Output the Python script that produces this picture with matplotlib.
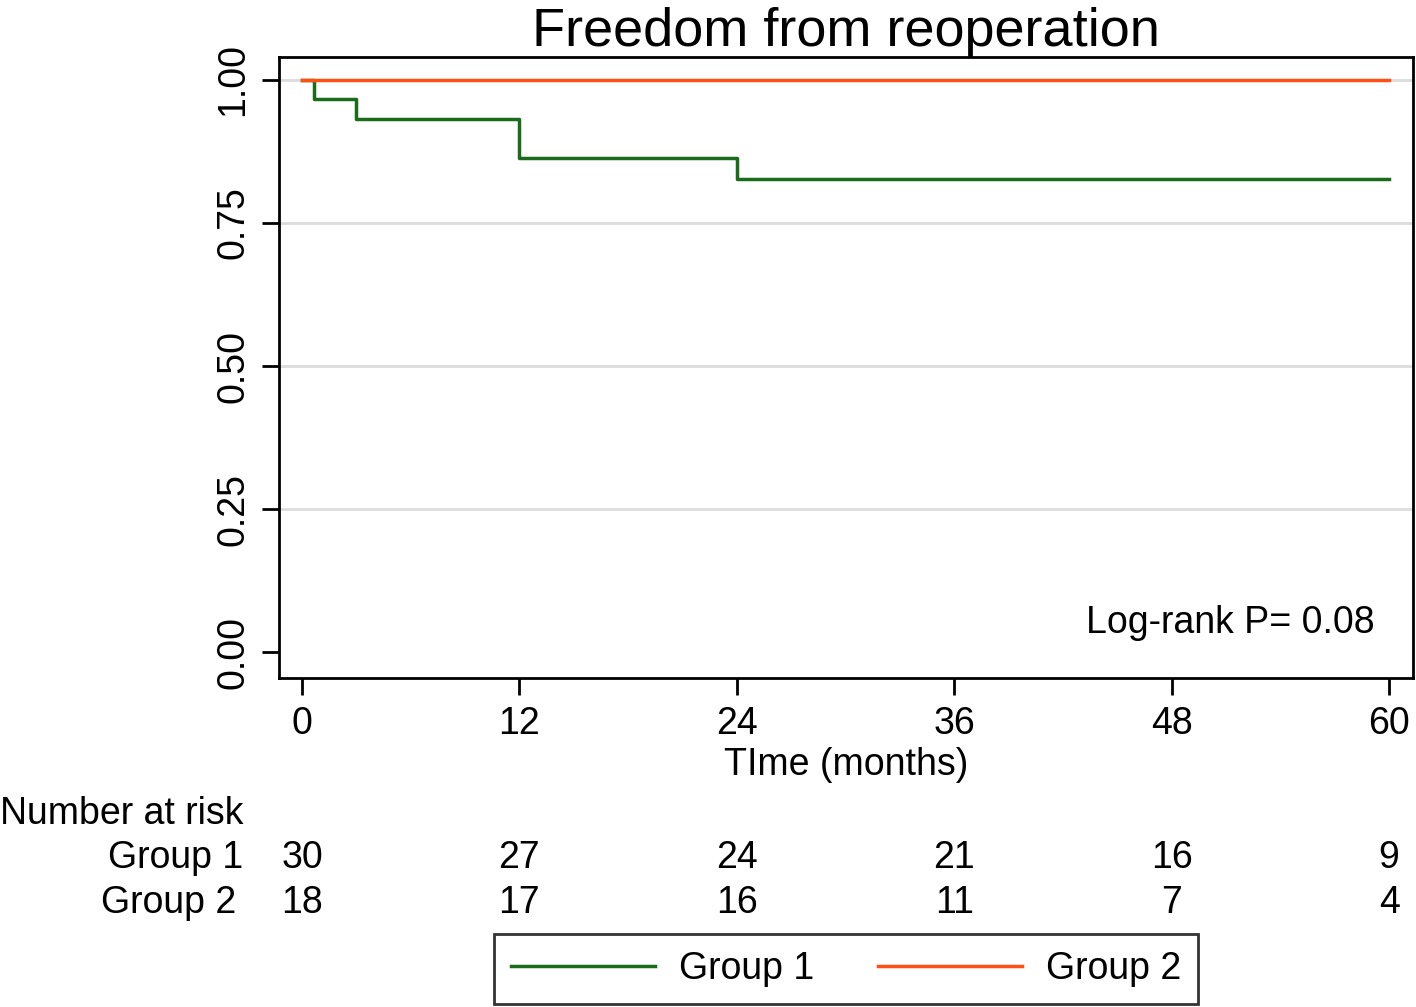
import matplotlib.pyplot as plt
import matplotlib.transforms as mtransforms

plt.rcParams['font.family'] = ['Liberation Sans', 'DejaVu Sans']

# Kaplan-Meier step data
g1_time = [0, 0.65, 3.0, 12.0, 24.0, 60]
g1_surv = [1.0, 0.967, 0.931, 0.863, 0.826, 0.826]
g2_time = [0, 60]
g2_surv = [1.0, 1.0]

# number at risk table
risk_times = [0, 12, 24, 36, 48, 60]
risk_g1 = [30, 27, 24, 21, 16, 9]
risk_g2 = [18, 17, 16, 11, 7, 4]

green = '#1a6b1a'
orange = '#ff4f14'
fs = 27

fig = plt.figure(figsize=(14.16, 10.07), dpi=100)
ax = fig.add_axes([279/1416, 1 - 678/1007, (1413 - 279)/1416, (678 - 57)/1007])

for y in [0.25, 0.5, 0.75, 1.0]:
    ax.axhline(y, color='#dcdcdc', lw=2, zorder=0)

ax.step(g1_time, g1_surv, where='post', color=green, lw=2.5, label='Group 1')
ax.step(g2_time, g2_surv, where='post', color=orange, lw=2.5, label='Group 2')

ax.set_xlim(-1.27, 61.32)
ax.set_ylim(-0.045, 1.04)
ax.set_xticks(risk_times)
ax.set_yticks([0, 0.25, 0.5, 0.75, 1.0])
ax.set_yticklabels(['0.00', '0.25', '0.50', '0.75', '1.00'], rotation=90, va='center')
ax.tick_params(labelsize=fs, length=12, width=2, pad=8)
for s in ax.spines.values():
    s.set_linewidth(2)

ax.set_title('Freedom from reoperation', fontsize=39, pad=6)
ax.set_xlabel('TIme (months)', fontsize=fs, labelpad=4)

ax.text(0.9665, 0.088, 'Log-rank P= 0.08', transform=ax.transAxes, ha='right',
        va='center', fontsize=fs)

# number at risk
row0, row1, row2 = 814, 858, 903
trans = mtransforms.blended_transform_factory(ax.transData, fig.transFigure)
fig.text(0, 1 - row0/1007, 'Number at risk', fontsize=fs, ha='left', va='center')
fig.text(243/1416, 1 - row1/1007, 'Group 1', fontsize=fs, ha='right', va='center')
fig.text(236/1416, 1 - row2/1007, 'Group 2', fontsize=fs, ha='right', va='center')
for t, a, b in zip(risk_times, risk_g1, risk_g2):
    ax.text(t, 1 - row1/1007, str(a), transform=trans, ha='center', va='center',
            fontsize=fs, clip_on=False)
    ax.text(t, 1 - row2/1007, str(b), transform=trans, ha='center', va='center',
            fontsize=fs, clip_on=False)

leg = fig.legend(loc='center', bbox_to_anchor=((492 + 1200)/2/1416, 1 - 969/1007),
                 ncol=2, fontsize=fs, frameon=True, fancybox=False,
                 edgecolor='black', handlelength=3.84, columnspacing=1.68,
                 handletextpad=0.64, borderpad=0.45)
leg.get_frame().set_linewidth(2)

fig.savefig('out.png', dpi=100)
